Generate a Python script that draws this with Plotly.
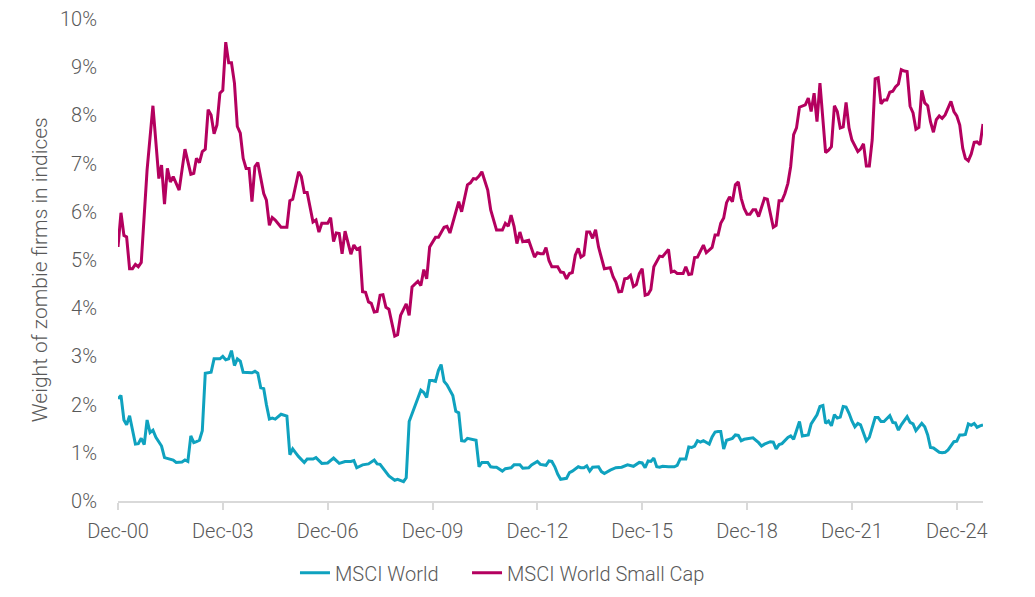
import pandas as pd
import plotly.graph_objects as go

# Months elapsed since Dec-2000 and readings (% of index weight)
world_months = [0, 1, 2, 3, 4, 6, 7, 8, 9, 10, 11, 12, 13, 15, 16, 18, 19, 20, 22, 23, 24, 25, 26, 27, 28, 29,
                30, 32, 33, 35, 36, 37, 38, 39, 40, 41, 42, 43, 45, 46, 47, 48, 49, 50, 51, 52, 53, 54, 56, 57,
                58, 59, 60, 61, 62, 64, 65, 67, 68, 70, 72, 74, 76, 78, 80, 81, 82, 84, 86, 88, 89, 90, 92, 93,
                95, 96, 98, 99, 100, 101, 103, 104, 105, 106, 107, 108, 109, 110, 111, 112, 113, 114, 115, 116,
                117, 118, 119, 120, 122, 123, 124, 125, 127, 128, 129, 130, 132, 133, 135, 136, 138, 139, 141,
                142, 144, 145, 147, 148, 149, 150, 151, 152, 154, 155, 156, 158, 159, 160, 161, 162, 163, 165,
                166, 167, 169, 171, 173, 174, 175, 177, 178, 179, 180, 181, 182, 183, 184, 185, 186, 187, 189,
                191, 192, 193, 195, 196, 197, 198, 199, 200, 201, 203, 204, 205, 206, 207, 208, 209, 211, 212,
                213, 214, 215, 217, 218, 220, 221, 222, 224, 225, 226, 227, 228, 230, 231, 232, 234, 235, 237,
                238, 240, 241, 242, 243, 244, 245, 246, 247, 248, 249, 250, 251, 252, 253, 254, 255, 256, 257,
                258, 259, 260, 261, 262, 263, 265, 266, 267, 268, 269, 271, 272, 273, 274, 276, 277, 278, 279,
                280, 282, 283, 284, 285, 287, 288, 289, 290, 291, 292, 293, 294, 295, 296, 297]
world_values = [2.12, 2.19, 1.68, 1.58, 1.77, 1.18, 1.19, 1.30, 1.17, 1.68, 1.42, 1.47, 1.32, 1.14, 0.90, 0.87,
                0.85, 0.80, 0.81, 0.85, 0.82, 1.35, 1.21, 1.23, 1.26, 1.46, 2.65, 2.67, 2.95, 2.95, 3.00, 2.93,
                2.95, 3.12, 2.81, 2.95, 2.90, 2.67, 2.67, 2.66, 2.69, 2.65, 2.35, 2.33, 2.00, 1.70, 1.72, 1.70,
                1.80, 1.78, 1.76, 0.96, 1.08, 1.00, 0.92, 0.80, 0.87, 0.87, 0.90, 0.78, 0.79, 0.89, 0.78, 0.82,
                0.82, 0.84, 0.69, 0.75, 0.77, 0.85, 0.77, 0.76, 0.61, 0.52, 0.43, 0.45, 0.40, 0.48, 1.65, 1.82,
                2.16, 2.30, 2.25, 2.15, 2.50, 2.50, 2.48, 2.71, 2.83, 2.48, 2.41, 2.30, 2.19, 1.86, 1.83, 1.25,
                1.24, 1.30, 1.28, 1.26, 0.71, 0.80, 0.80, 0.71, 0.70, 0.70, 0.62, 0.67, 0.69, 0.75, 0.75, 0.68,
                0.69, 0.75, 0.82, 0.76, 0.74, 0.83, 0.82, 0.71, 0.56, 0.45, 0.47, 0.59, 0.62, 0.71, 0.69, 0.69,
                0.73, 0.62, 0.70, 0.71, 0.61, 0.57, 0.64, 0.69, 0.70, 0.73, 0.75, 0.72, 0.76, 0.80, 0.79, 0.69,
                0.83, 0.82, 0.89, 0.71, 0.70, 0.72, 0.71, 0.71, 0.74, 0.87, 0.87, 1.12, 1.11, 1.14, 1.25, 1.22,
                1.25, 1.18, 1.33, 1.43, 1.44, 1.44, 1.08, 1.26, 1.30, 1.37, 1.36, 1.25, 1.28, 1.30, 1.31, 1.21,
                1.14, 1.18, 1.23, 1.22, 1.08, 1.17, 1.19, 1.32, 1.35, 1.28, 1.65, 1.35, 1.37, 1.60, 1.79, 1.96,
                1.98, 1.61, 1.66, 1.56, 1.79, 1.72, 1.74, 1.96, 1.95, 1.82, 1.66, 1.54, 1.61, 1.58, 1.39, 1.25,
                1.32, 1.53, 1.73, 1.73, 1.65, 1.65, 1.77, 1.63, 1.62, 1.47, 1.58, 1.75, 1.63, 1.60, 1.46, 1.61,
                1.54, 1.37, 1.11, 1.10, 1.01, 1.00, 1.01, 1.06, 1.23, 1.24, 1.37, 1.37, 1.38, 1.60, 1.57, 1.61,
                1.53, 1.56, 1.58]

small_months = [0, 1, 2, 3, 4, 5, 6, 7, 8, 10, 12, 13, 14, 15, 16, 17, 18, 19, 20, 21, 23, 25, 26, 27, 28, 29,
                30, 31, 32, 33, 34, 35, 36, 37, 38, 39, 40, 41, 42, 43, 44, 45, 46, 47, 48, 50, 51, 52, 53, 54,
                56, 58, 59, 60, 62, 63, 64, 65, 67, 68, 69, 70, 72, 73, 74, 75, 76, 77, 78, 80, 81, 82, 83, 84,
                85, 86, 87, 88, 89, 90, 91, 92, 93, 94, 95, 96, 97, 99, 100, 101, 103, 104, 105, 106, 107, 109,
                110, 112, 113, 114, 115, 117, 118, 120, 121, 122, 123, 124, 125, 127, 128, 130, 131, 132, 133,
                134, 135, 136, 137, 138, 139, 140, 141, 142, 143, 144, 145, 146, 147, 148, 149, 151, 152, 153,
                154, 155, 156, 157, 158, 159, 160, 161, 162, 163, 164, 165, 167, 168, 169, 170, 171, 172, 173,
                174, 175, 176, 177, 178, 179, 180, 181, 182, 183, 184, 185, 186, 187, 189, 190, 191, 192, 193,
                194, 195, 196, 197, 198, 199, 201, 202, 204, 205, 206, 207, 208, 209, 210, 211, 212, 213, 214,
                215, 216, 217, 218, 219, 220, 221, 222, 223, 224, 225, 226, 227, 228, 229, 230, 231, 232, 233,
                234, 235, 236, 237, 238, 239, 240, 241, 242, 243, 244, 245, 246, 247, 248, 249, 250, 251, 252,
                254, 255, 256, 257, 258, 259, 260, 261, 262, 263, 264, 265, 266, 267, 268, 269, 270, 271, 272,
                273, 274, 275, 276, 277, 278, 279, 280, 281, 282, 283, 284, 286, 287, 288, 289, 290, 291, 292,
                293, 294, 295, 296, 297]
small_values = [5.27, 5.98, 5.51, 5.48, 4.82, 4.82, 4.91, 4.86, 4.95, 6.87, 8.20, 7.35, 6.69, 6.97, 6.16, 6.90,
                6.62, 6.73, 6.59, 6.45, 7.30, 6.78, 6.80, 7.11, 7.02, 7.25, 7.30, 8.12, 8.01, 7.62, 7.80, 8.46,
                8.52, 9.52, 9.09, 9.09, 8.67, 7.77, 7.63, 7.11, 6.90, 6.90, 6.21, 6.94, 7.02, 6.38, 6.24, 5.72,
                5.88, 5.83, 5.68, 5.68, 6.23, 6.26, 6.83, 6.73, 6.40, 6.40, 5.79, 5.83, 5.58, 5.76, 5.76, 5.88,
                5.38, 5.56, 5.55, 5.13, 5.60, 5.12, 5.31, 5.22, 5.25, 4.34, 4.33, 4.13, 4.10, 3.92, 3.93, 4.27,
                4.28, 4.02, 3.98, 3.68, 3.42, 3.45, 3.85, 4.09, 3.85, 4.44, 4.56, 4.47, 4.80, 4.61, 5.27, 5.47,
                5.47, 5.68, 5.70, 5.56, 5.76, 6.21, 6.00, 6.56, 6.60, 6.69, 6.68, 6.74, 6.83, 6.45, 6.04, 5.62,
                5.62, 5.62, 5.76, 5.70, 5.93, 5.70, 5.34, 5.58, 5.38, 5.40, 5.41, 5.24, 5.06, 5.15, 5.13, 5.13,
                5.26, 4.99, 4.86, 4.86, 4.75, 4.74, 4.61, 4.72, 4.74, 5.10, 5.24, 5.06, 5.10, 5.58, 5.58, 5.45,
                5.63, 5.27, 4.82, 4.83, 4.84, 4.65, 4.54, 4.34, 4.35, 4.61, 4.62, 4.68, 4.45, 4.49, 4.72, 4.82,
                4.27, 4.29, 4.39, 4.86, 4.96, 5.08, 5.07, 5.22, 4.75, 4.77, 4.72, 4.72, 4.72, 4.86, 4.70, 4.71,
                5.05, 5.06, 5.31, 5.15, 5.26, 5.52, 5.52, 5.76, 5.87, 6.19, 6.31, 6.21, 6.56, 6.62, 6.28, 6.07,
                5.95, 5.95, 6.04, 6.04, 5.90, 6.09, 6.28, 6.26, 5.97, 5.68, 5.72, 6.23, 6.23, 6.38, 6.59, 6.94,
                7.60, 7.74, 8.17, 8.19, 8.22, 8.36, 8.08, 8.46, 7.87, 8.67, 7.98, 7.23, 7.28, 7.35, 8.20, 8.08,
                7.74, 7.76, 8.27, 7.74, 7.49, 7.25, 7.30, 7.41, 6.95, 6.95, 7.49, 8.76, 8.78, 8.24, 8.32, 8.32,
                8.48, 8.50, 8.59, 8.65, 8.95, 8.92, 8.91, 8.19, 8.05, 7.71, 7.75, 8.52, 8.26, 8.20, 7.87, 7.65,
                7.91, 7.99, 7.94, 8.01, 8.29, 8.08, 7.99, 7.80, 7.32, 7.11, 7.06, 7.20, 7.44, 7.45, 7.39, 7.82]

series_names = ["MSCI World", "MSCI World Small Cap"]
y_title = "Weight of zombie firms in indices"

start = pd.Timestamp("2000-12-01")
def to_dates(months):
    return [start + pd.DateOffset(months=m) for m in months]

TEAL = "#0FA2BF"
MAGENTA = "#B4005F"
GREY = "#595959"
FONT = "Roboto"
legend_font = dict(family=FONT, size=20, color=GREY, weight=300)

fig = go.Figure()
fig.add_trace(go.Scatter(x=to_dates(world_months), y=world_values, mode="lines",
                         name=series_names[0], line=dict(color=TEAL, width=3), legend="legend"))
fig.add_trace(go.Scatter(x=to_dates(small_months), y=small_values, mode="lines",
                         name=series_names[1], line=dict(color=MAGENTA, width=3), legend="legend2"))

fig.update_layout(
    width=1035, height=597,
    margin=dict(l=118, r=52, t=19, b=96, autoexpand=False),
    plot_bgcolor="white", paper_bgcolor="white",
    font=dict(family=FONT, color=GREY, size=20, weight=300),
    showlegend=True,
    legend=dict(orientation="h", x=0.2046, xanchor="left", y=-0.149, yanchor="middle",
                font=legend_font, itemwidth=30),
    legend2=dict(orientation="h", x=0.4035, xanchor="left", y=-0.149, yanchor="middle",
                 font=legend_font, itemwidth=30),
    xaxis=dict(type="date", range=[start, start + pd.DateOffset(months=297)],
               tick0="2000-12-01", dtick="M36", tickformat="%b-%y",
               showgrid=False, zeroline=False, showline=True, linecolor="#D9D9D9", linewidth=1.5,
               ticks="outside", ticklen=7, tickcolor="#D9D9D9", tickwidth=1.5,
               ticklabelstandoff=4,
               tickfont=dict(family=FONT, size=20, color=GREY, weight=300)),
    yaxis=dict(range=[0, 10], dtick=1, ticksuffix="%", showgrid=False, zeroline=False,
               showline=False, ticks="", ticklabelstandoff=20,
               tickfont=dict(family=FONT, size=20, color=GREY, weight=300)),
    annotations=[dict(text=y_title, textangle=-90, xref="paper", yref="paper",
                      x=-0.0902, y=0.481, xanchor="center", yanchor="middle", showarrow=False,
                      font=dict(family=FONT, size=21, color=GREY, weight=300))],
)

fig.write_html("out.html")
